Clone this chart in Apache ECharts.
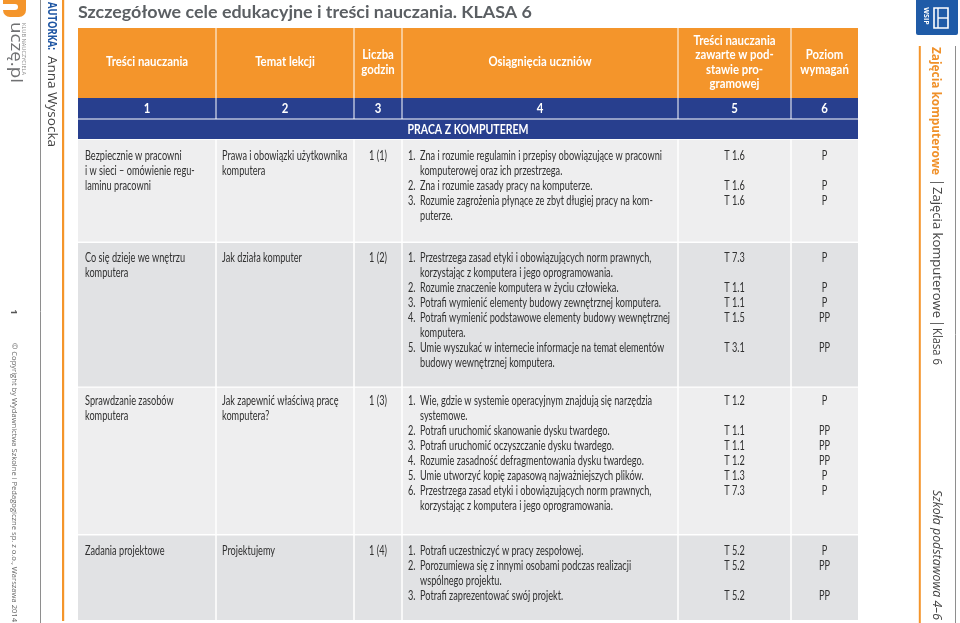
<!DOCTYPE html>
<html><head><meta charset="utf-8">
<script src="https://cdn.jsdelivr.net/npm/echarts@6/dist/echarts.min.js"></script>
<style>html,body{margin:0;padding:0;background:#fff}#c{width:960px;height:623px}</style>
</head><body><div id="c"></div>
<script>
// ---------- DATA ----------
const pageTitle = 'Szczegółowe cele edukacyjne i treści nauczania. KLASA 6';
const columnHeaders = ['Treści nauczania', 'Temat lekcji', 'Liczba\ngodzin', 'Osiągnięcia uczniów',
  'Treści nauczania\nzawarte w pod-\nstawie pro-\ngramowej', 'Poziom\nwymagań'];
const columnNumbers = ['1', '2', '3', '4', '5', '6'];
const sectionName = 'PRACA Z KOMPUTEREM';
const contentTopics = ['Bezpiecznie w pracowni\ni w sieci – omówienie regu-\nlaminu pracowni',
  'Co się dzieje we wnętrzu\nkomputera', 'Sprawdzanie zasobów\nkomputera', 'Zadania projektowe'];
const lessonTopics = ['Prawa i obowiązki użytkownika\nkomputera', 'Jak działa komputer',
  'Jak zapewnić właściwą pracę\nkomputera?', 'Projektujemy'];
const lessonHours = ['1 (1)', '1 (2)', '1 (3)', '1 (4)'];
const achievements1 = ['Zna i rozumie regulamin i przepisy obowiązujące w pracowni\nkomputerowej oraz ich przestrzega.',
  'Zna i rozumie zasady pracy na komputerze.',
  'Rozumie zagrożenia płynące ze zbyt długiej pracy na kom-\nputerze.'];
const achievements2 = ['Przestrzega zasad etyki i obowiązujących norm prawnych,\nkorzystając z komputera i jego oprogramowania.',
  'Rozumie znaczenie komputera w życiu człowieka.',
  'Potrafi wymienić elementy budowy zewnętrznej komputera.',
  'Potrafi wymienić podstawowe elementy budowy wewnętrznej\nkomputera.',
  'Umie wyszukać w internecie informacje na temat elementów\nbudowy wewnętrznej komputera.'];
const achievements3 = ['Wie, gdzie w systemie operacyjnym znajdują się narzędzia\nsystemowe.',
  'Potrafi uruchomić skanowanie dysku twardego.',
  'Potrafi uruchomić oczyszczanie dysku twardego.',
  'Rozumie zasadność defragmentowania dysku twardego.',
  'Umie utworzyć kopię zapasową najważniejszych plików.',
  'Przestrzega zasad etyki i obowiązujących norm prawnych,\nkorzystając z komputera i jego oprogramowania.'];
const achievements4 = ['Potrafi uczestniczyć w pracy zespołowej.',
  'Porozumiewa się z innymi osobami podczas realizacji\nwspólnego projektu.',
  'Potrafi zaprezentować swój projekt.'];
const achievements = [achievements1, achievements2, achievements3, achievements4];
const curriculumCodes = [['T 1.6', 'T 1.6', 'T 1.6'], ['T 7.3', 'T 1.1', 'T 1.1', 'T 1.5', 'T 3.1'],
  ['T 1.2', 'T 1.1', 'T 1.1', 'T 1.2', 'T 1.3', 'T 7.3'], ['T 5.2', 'T 5.2', 'T 5.2']];
const requirementLevels = [['P', 'P', 'P'], ['P', 'P', 'P', 'PP', 'PP'],
  ['P', 'PP', 'PP', 'PP', 'P', 'P'], ['P', 'PP', 'PP']];
const authorLabel = 'AUTORKA:';
const authorName = 'Anna Wysocka';
const subjectName = 'Zajęcia komputerowe';
const classLabel = 'Klasa 6';
const schoolLabel = 'Szkoła podstawowa 4–6';
const copyrightText = '© Copyright by Wydawnictwa Szkolne i Pedagogiczne sp. z o.o., Warszawa 2014';
const pageNumber = '1';

// ---------- LAYOUT (axis units of the hidden table grid) ----------
const COL = [0, 138, 276, 324, 600, 713, 780];
const HEAD = [0, 70], NUMS = [70, 90.5], SECT = [91.5, 111];
const ROWS = [[111.8, 213.6], [215, 358.4], [359.8, 506], [507.4, 592]];
const FIRST_LINE = [16, 14.5, 13.5, 15.5];
const LINE_H = 15;
const ORANGE = '#f4952b', BLUE = '#283f8e', ROW_BG = ['#eeeeef', '#e1e2e4', '#eeeeef', '#e1e2e4'];
const TEXT = '#303030';

const FONT_SANS = 'Lato, "Open Sans", sans-serif';
const FONT_SIDE = '"Open Sans", Lato, sans-serif';
const F_BODY = '12.8px ' + FONT_SANS;
const F_HEAD = 'bold 14px ' + FONT_SANS;
const F_TITLE = 'bold 17.5px ' + FONT_SANS;

const mctx = document.createElement('canvas').getContext('2d');
function fit(font, text, target) { mctx.font = font; const w = mctx.measureText(text).width; return w > 0 ? target / w : 1; }
const bodyScale = fit(F_BODY, 'Zna i rozumie regulamin i przepisy obowiązujące w pracowni', 242);
const headScale = fit(F_HEAD, 'Osiągnięcia uczniów', 103);
const sectScale = fit(F_HEAD, sectionName, 121);
const titleScale = fit(F_TITLE, pageTitle, 454);

function label(x, y, text, o) {
  return { type: 'text', x: x, y: y, scaleX: o.scale || 1, rotation: o.rot || 0,
    style: { text: text, font: o.font, fill: o.fill, align: o.align || 'left',
      verticalAlign: o.va || 'middle', lineHeight: o.lh || 14 } };
}

const cells = [];
columnHeaders.forEach((t, c) => cells.push({ kind: 'head', c }));
columnNumbers.forEach((t, c) => cells.push({ kind: 'num', c }));
cells.push({ kind: 'sect', c: 0 });
contentTopics.forEach((t, r) => { for (let c = 0; c < 6; c++) cells.push({ kind: 'body', r, c }); });

function renderItem(params, api) {
  const cell = cells[params.dataIndex];
  const pt = (x, y) => api.coord([x, y]);
  const box = (x0, x1, y0, y1, fill) => {
    const a = pt(x0, y0), b = pt(x1, y1);
    return { type: 'rect', shape: { x: a[0], y: a[1], width: b[0] - a[0], height: b[1] - a[1] }, style: { fill } };
  };
  const c = cell.c;
  const x0 = COL[c] + (c ? 0.5 : 0), x1 = COL[c + 1] - (c < 5 ? 0.5 : 0);
  const cx = (COL[c] + COL[c + 1]) / 2;
  const ch = [];
  if (cell.kind === 'head') {
    ch.push(box(x0, x1, HEAD[0], HEAD[1], ORANGE));
    const p = pt(cx, 33.8);
    ch.push(label(p[0], p[1], columnHeaders[c], { font: F_HEAD, fill: '#fff', align: 'center', lh: 14.5, scale: headScale }));
  } else if (cell.kind === 'num') {
    ch.push(box(x0, x1, NUMS[0], NUMS[1], BLUE));
    const p = pt(cx, (NUMS[0] + NUMS[1]) / 2 + 0.5);
    ch.push(label(p[0], p[1], columnNumbers[c], { font: F_HEAD, fill: '#fff', align: 'center', scale: headScale }));
  } else if (cell.kind === 'sect') {
    ch.push(box(COL[0], COL[6], SECT[0], SECT[1], BLUE));
    const p = pt((COL[0] + COL[6]) / 2, (SECT[0] + SECT[1]) / 2 + 0.5);
    ch.push(label(p[0], p[1], sectionName, { font: F_HEAD, fill: '#fff', align: 'center', scale: sectScale }));
  } else {
    const r = cell.r, top = ROWS[r][0];
    ch.push(box(COL[c] + (c ? 0.75 : 0), COL[c + 1] - (c < 5 ? 0.75 : 0), ROWS[r][0], ROWS[r][1], ROW_BG[r]));
    const ty = top + FIRST_LINE[r] - LINE_H / 2;
    const opt = (align) => ({ font: F_BODY, fill: TEXT, align: align, va: 'top', lh: LINE_H, scale: bodyScale });
    if (c === 0) { const p = pt(COL[0] + 7, ty); ch.push(label(p[0], p[1], contentTopics[r], opt('left'))); }
    else if (c === 1) { const p = pt(COL[1] + 6, ty); ch.push(label(p[0], p[1], lessonTopics[r], opt('left'))); }
    else if (c === 2) { const p = pt(cx, ty); ch.push(label(p[0], p[1], lessonHours[r], opt('center'))); }
    else {
      let line = 0;
      achievements[r].forEach((item, i) => {
        const y = ty + line * LINE_H;
        if (c === 3) {
          const pn = pt(COL[3] + 6, y), pl = pt(COL[3] + 18, y);
          ch.push(label(pn[0], pn[1], (i + 1) + '.', opt('left')));
          ch.push(label(pl[0], pl[1], item, opt('left')));
        } else if (c === 4) {
          const p = pt(cx, y); ch.push(label(p[0], p[1], curriculumCodes[r][i], opt('center')));
        } else {
          const p = pt(cx, y); ch.push(label(p[0], p[1], requirementLevels[r][i], opt('center')));
        }
        line += item.split('\n').length;
      });
    }
  }
  return { type: 'group', children: ch };
}

const ROT = -Math.PI / 2;
const F_SIDE_B = 'bold 13px ' + FONT_SIDE, F_SIDE = '13px ' + FONT_SIDE, F_SIDE_I = 'italic 13px ' + FONT_SIDE;
const F_AUTH_B = 'bold 12px ' + FONT_SIDE, F_AUTH = '12px ' + FONT_SIDE;
const F_LOGO = '16px ' + FONT_SIDE, F_TINY = '4.5px ' + FONT_SIDE, F_COPY = '7px ' + FONT_SIDE;

const graphics = [
  // left decorations
  { type: 'rect', shape: { x: 3, y: -4, width: 23, height: 21, r: [0, 0, 7, 7] }, style: { fill: ORANGE } },
  { type: 'rect', shape: { x: 3, y: 4, width: 15, height: 6, r: [0, 3, 3, 0] }, style: { fill: '#fff' } },
  label(16, 22, 'uczę.pl', { font: F_LOGO, fill: '#707173', rot: ROT, scale: fit(F_LOGO, 'uczę.pl', 61) }),
  label(23.5, 23, 'KLUB NAUCZYCIELA', { font: F_TINY, fill: '#8a8a8a', rot: ROT, scale: fit(F_TINY, 'KLUB NAUCZYCIELA', 52) }),
  { type: 'line', shape: { x1: 40.5, y1: 0, x2: 40.5, y2: 623 }, style: { stroke: '#8e8e8e', lineWidth: 1 } },
  label(13.5, 312, pageNumber, { font: 'bold 9px ' + FONT_SIDE, fill: '#555', rot: ROT, align: 'center' }),
  label(14, 622, copyrightText, { font: F_COPY, fill: '#666', rot: ROT, align: 'right', scale: fit(F_COPY, copyrightText, 279) }),
  label(51, 2, authorLabel, { font: F_AUTH_B, fill: '#1f56a3', rot: ROT, scale: fit(F_AUTH_B, authorLabel, 48) }),
  label(51, 56, authorName, { font: F_AUTH, fill: '#444', rot: ROT, scale: fit(F_AUTH, authorName, 91) }),
  { type: 'rect', shape: { x: 62, y: 0, width: 2.2, height: 621 }, style: { fill: ORANGE } },
  // title
  label(78, 12.5, pageTitle, { font: F_TITLE, fill: '#5b5f63', scale: titleScale }),
  // right decorations
  { type: 'rect', shape: { x: 916, y: 0, width: 42, height: 35, r: [0, 0, 2, 2] }, style: { fill: '#1f5ba7' } },
  label(926, 16, 'WSIP', { font: 'bold 7px ' + FONT_SIDE, fill: '#fff', rot: ROT, align: 'center' }),
  { type: 'rect', shape: { x: 934, y: 8, width: 14, height: 20 }, style: { fill: 'none', stroke: '#fff', lineWidth: 1.6 } },
  { type: 'line', shape: { x1: 938, y1: 8, x2: 938, y2: 28 }, style: { stroke: '#fff', lineWidth: 1.4 } },
  { type: 'line', shape: { x1: 938, y1: 18, x2: 948, y2: 18 }, style: { stroke: '#fff', lineWidth: 1.4 } },
  { type: 'rect', shape: { x: 918.8, y: 46, width: 2, height: 577 }, style: { fill: ORANGE } },
  { type: 'line', shape: { x1: 955.5, y1: 46, x2: 955.5, y2: 623 }, style: { stroke: '#8e8e8e', lineWidth: 1 } },
  label(936, 47, subjectName, { font: F_SIDE_B, fill: '#f0912a', rot: ROT, scale: fit(F_SIDE_B, subjectName, 128) }),
  { type: 'line', shape: { x1: 930, y1: 182.5, x2: 944, y2: 182.5 }, style: { stroke: '#666', lineWidth: 1 } },
  label(937, 187, subjectName, { font: F_SIDE, fill: '#444', rot: ROT, scale: fit(F_SIDE, subjectName, 131) }),
  { type: 'line', shape: { x1: 930, y1: 323.5, x2: 944, y2: 323.5 }, style: { stroke: '#666', lineWidth: 1 } },
  label(937, 328, classLabel, { font: F_SIDE, fill: '#444', rot: ROT, scale: fit(F_SIDE, classLabel, 37) }),
  label(937, 620, schoolLabel, { font: F_SIDE_I, fill: '#444', rot: ROT, align: 'right', scale: fit(F_SIDE_I, schoolLabel, 130) })
];

const chart = echarts.init(document.getElementById('c'), null, { renderer: 'canvas' });
chart.setOption({
  animation: false,
  backgroundColor: '#ffffff',
  grid: { left: 78, top: 28, width: 780, height: 592, containLabel: false },
  xAxis: { type: 'value', min: 0, max: 780, show: false },
  yAxis: { type: 'value', min: 0, max: 592, inverse: true, show: false },
  graphic: graphics,
  series: [{
    type: 'custom', silent: true, clip: false,
    data: cells.map((cell, i) => [cell.c, i]),
    renderItem: renderItem
  }]
});
</script></body></html>
